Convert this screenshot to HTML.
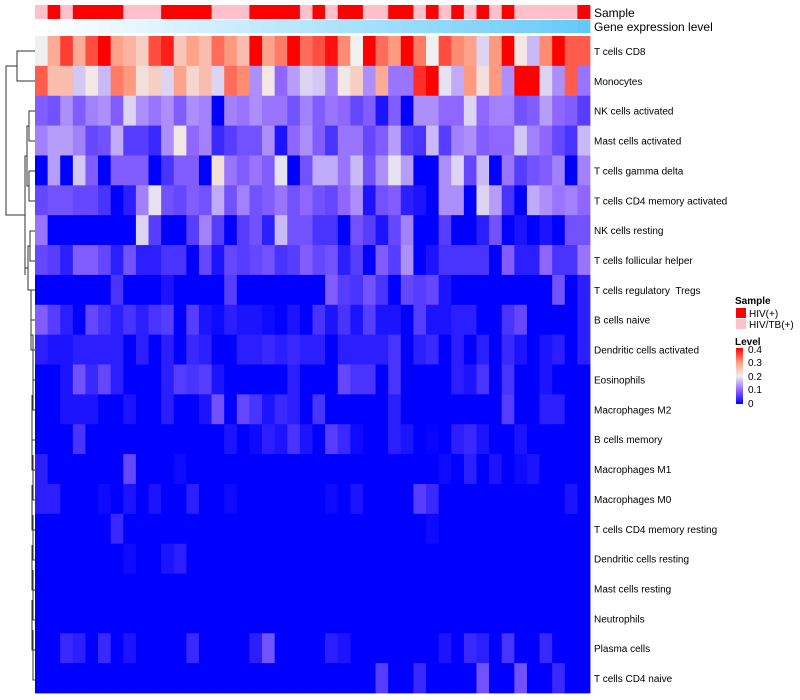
<!DOCTYPE html>
<html><head><meta charset="utf-8">
<style>
body{margin:0;background:#fff;width:800px;height:700px;overflow:hidden;font-family:"Liberation Sans",sans-serif}
svg{display:block}
text{font-family:"Liberation Sans",sans-serif;white-space:pre}
</style></head>
<body>
<svg id="chart" width="800" height="700" xmlns="http://www.w3.org/2000/svg">
<defs>
<linearGradient id="lvl" x1="0" y1="1" x2="0" y2="0">
<stop offset="0" stop-color="#0000ff"/><stop offset="0.25" stop-color="#8f66ff"/><stop offset="0.5" stop-color="#f0f0f0"/><stop offset="0.75" stop-color="#ff9a80"/><stop offset="1" stop-color="#ff0000"/>
</linearGradient>
</defs>
<g id="sampleBar"></g>
<g id="geneBar"></g>
<g id="cells"></g>
<g id="rowLabels"></g>
<text x="594" y="17" font-size="12" fill="#000">Sample</text>
<text x="594" y="31" font-size="12" fill="#000">Gene expression level</text>
<g stroke="#333" stroke-width="1" fill="none">
<path d="M35,51 H17 V81 H35"/>
<path d="M6,66 H17"/>
<path d="M6,66 V215 H25"/>
<path d="M35,111 H29 V141 H35"/>
<path d="M35,171 H29 V201 H35"/>
<path d="M29,126 H27 V186 H29"/>
<path d="M35,231 H30 V261 H35"/>
<path d="M27,156 H25 V275"/>
<path d="M30,246 H28 V290 H35"/>
<path d="M28,268 H25"/>
<path d="M28,290 H31 V320 H35"/>
<path d="M31,305 V350 H35 M31,335 H33 V380 H35 M33,358 V410 H35 M32,395 V440 H35 M32,420 V470 H35 M33,455 V500 H35 M32,485 V530 H35 M33,515 V560 H35 M32,545 V590 H35 M33,570 V620 H35 M32,600 V650 H35 M33,630 V680 H35"/>
</g>
<g>
<text x="735" y="304" font-size="10" font-weight="bold">Sample</text>
<rect x="736" y="308" width="10" height="10" fill="#ff0000"/>
<text x="749" y="317" font-size="10">HIV(+)</text>
<rect x="736" y="319" width="10" height="10" fill="#ffc0cb"/>
<text x="749" y="328" font-size="10">HIV/TB(+)</text>
<text x="735" y="345" font-size="10" font-weight="bold">Level</text>
<rect x="736" y="348" width="7" height="56" fill="url(#lvl)"/>
<text x="748" y="353" font-size="10">0.4</text>
<text x="748" y="366" font-size="10">0.3</text>
<text x="748" y="380" font-size="10">0.2</text>
<text x="748" y="393" font-size="10">0.1</text>
<text x="748" y="407" font-size="10">0</text>
</g>
</svg>
<script>
const rowNames=["T cells CD8","Monocytes","NK cells activated","Mast cells activated","T cells gamma delta","T cells CD4 memory activated","NK cells resting","T cells follicular helper","T cells regulatory  Tregs","B cells naive","Dendritic cells activated","Eosinophils","Macrophages M2","B cells memory","Macrophages M1","Macrophages M0","T cells CD4 memory resting","Dendritic cells resting","Mast cells resting","Neutrophils","Plasma cells","T cells CD4 naive"];
const sampleGroups="PRPRRRRPPPRRRRPPPRRRRPRPRRPPRRPRPRPRPRPPPPPR".split("");
const geneExpr=[0,0.02,0.04,0.06,0.08,0.1,0.12,0.14,0.16,0.18,0.2,0.22,0.24,0.26,0.28,0.3,0.32,0.34,0.36,0.38,0.4,0.42,0.44,0.46,0.48,0.5,0.52,0.54,0.56,0.58,0.6,0.62,0.64,0.66,0.68,0.7,0.72,0.74,0.76,0.78,0.8,0.83,0.86,0.9];
const levels=[
[.2,.28,.36,.28,.35,.4,.29,.27,.24,.35,.38,.25,.29,.26,.33,.3,.26,.4,.29,.32,.4,.33, .35,.39,.31,.2,.4,.33,.3,.4,.32,.2,.35,.31,.29,.18,.3,.4,.21,.16,.31,.4,.34,.34],
[.34,.26,.26,.17,.21,.16,.32,.3,.22,.24,.18,.29,.23,.26,.18,.33,.31,.13,.21,.1,.14,.18, .17,.12,.21,.24,.13,.28,.11,.11,.37,.4,.19,.15,.3,.22,.3,.13,.4,.4,.18,.13,.34,.11],
[.09,.08,.13,.09,.12,.13,.09,.18,.13,.11,.13,.09,.13,.12,0,.12,.11,.13,.11,.11,.08,.12, .09,.11,.1,.07,.09,.02,.09,0,.13,.13,.1,.1,.18,.1,.12,.12,.08,.09,.14,.1,.09,.06],
[.12,.14,.14,.12,.07,.08,.15,.06,.06,.04,.13,.21,.1,.12,.04,.06,.08,.08,.13,.02,.1,.13, .09,.05,.11,.11,.07,.09,.14,.06,.05,.16,.06,.12,.13,.09,.1,.1,.17,.12,.1,.07,.05,.16],
[0,.14,0,.17,.09,0,.09,.09,.09,0,.05,.09,.09,0,.22,.11,.09,.11,.09,.19,0,.08, .15,.15,.11,.16,.08,.13,.19,.14,0,0,.13,.18,.07,.16,0,.11,.06,.08,.09,.12,0,.12],
[.07,.08,.08,.07,.07,.05,0,.03,.12,.19,.08,.07,.09,.08,.15,.08,.12,.08,.09,.11,.08,.1, .08,.07,.1,.13,.02,.08,.09,.03,.02,0,.13,.13,0,.18,.14,.05,0,.15,.13,.11,.12,.1],
[.11,0,0,0,0,0,0,0,.18,.06,0,0,.06,.12,.06,0,.06,.08,.03,.16,.08,.08, .05,.05,0,.08,.06,.02,.07,.12,0,0,.06,0,0,.03,.08,0,.02,0,.02,0,.08,.08],
[.07,.06,.03,.09,.09,.07,.03,.08,.03,.03,.05,.05,0,.07,.02,.07,.06,.07,.08,.05,.06,.09, .07,.08,.03,.06,0,.09,.06,.13,0,.02,.05,.05,.05,.05,0,.09,.03,.03,.1,.05,.05,.11],
[0,0,0,0,0,0,.05,0,0,0,.02,0,0,0,0,.06,0,0,0,0,0,0, 0,.09,.06,.05,.08,.05,0,.07,.06,.07,.02,0,0,0,0,0,0,0,0,.08,0,.03],
[.09,.06,.03,0,.07,.05,.03,.05,.03,.05,.06,0,.06,.02,.01,.03,.02,.02,.01,0,.02,0, .05,.02,.05,.02,.06,.02,.02,0,.06,.02,.02,.03,.03,0,0,.05,.07,0,0,0,0,.03],
[.03,.02,.02,.03,.03,.03,.03,0,.03,0,.03,0,.04,.03,0,0,.03,.03,.04,.03,.04,.03, .03,0,.03,.03,.03,.03,.05,0,.03,.04,0,.03,0,.03,0,.04,.02,0,.02,.03,0,.03],
[0,0,.02,.08,.04,.07,.03,0,0,0,.03,.06,.05,.06,.02,0,0,0,0,0,.03,0, 0,0,.07,.05,.05,0,.05,0,0,0,0,.03,.02,.05,0,.05,0,0,.02,0,0,0],
[0,0,.02,.02,.02,0,0,.02,0,0,.03,0,0,.02,.08,0,.07,.05,.02,.04,.03,0, .05,0,0,0,0,0,.03,0,0,0,0,0,0,0,0,.06,0,0,.03,.03,0,0],
[0,0,0,.05,0,0,0,0,0,0,0,0,0,0,0,.02,0,.01,.03,.02,.05,.02, 0,.06,.04,.01,0,0,.03,.02,0,.005,0,.03,.04,.02,0,0,.02,0,0,0,0,0],
[.03,0,0,0,0,0,0,.07,0,0,0,.01,0,0,0,0,0,0,0,0,0,0, 0,0,0,0,0,0,0,0,0,0,.01,0,.03,0,.02,0,.01,.02,0,0,0,0],
[.03,.03,0,0,0,.01,0,.02,0,.02,0,0,.03,0,0,.01,0,0,0,0,0,0, 0,.01,0,.02,0,0,0,0,.06,.04,0,0,0,0,0,0,0,0,0,0,.02,0],
[0,0,0,0,0,0,.04,0,0,0,0,0,0,0,0,0,0,0,0,0,0,0, 0,0,0,0,0,0,0,0,0,.01,0,0,0,0,0,0,0,0,0,0,0,0],
[0,0,0,0,0,0,0,.01,0,0,.02,.03,0,0,0,0,0,0,0,0,0,0, 0,0,0,0,0,0,0,0,0,0,0,0,0,0,0,0,0,0,0,0,0,0],
[0,0,0,0,0,0,0,0,0,0,0,0,0,0,0,0,0,0,0,0,0,0, 0,0,0,0,0,0,0,0,0,0,0,0,0,0,0,0,0,0,0,0,0,0],
[0,0,0,0,0,0,0,0,0,0,0,0,0,0,0,0,0,0,0,0,0,0, 0,0,0,0,0,0,0,0,0,0,0,0,0,0,0,0,0,0,0,0,0,0],
[0,0,.04,.03,0,.04,0,.02,0,0,0,0,.04,0,0,0,0,.03,.08,0,0,0, 0,.03,.02,0,0,0,0,0,0,0,.02,0,.04,.03,0,.05,0,0,.04,0,0,0],
[0,0,0,0,0,0,0,0,0,0,0,0,0,0,0,0,0,0,0,0,0,0, 0,0,0,0,0,.06,0,0,.04,0,0,0,0,.08,0,0,.08,0,0,.04,0,0]
];
const X0=35,X1=590,Y0=36,Y1=693;
const nCols=sampleGroups.length,nRows=rowNames.length;
const cw=(X1-X0)/nCols,rh=(Y1-Y0)/nRows;
const xPos=i=>X0+i*cw, yPos=j=>Y0+j*rh;
const stops=[[0,[0,0,255]],[0.1,[143,102,255]],[0.2,[240,240,240]],[0.3,[255,154,128]],[0.4,[255,0,0]]];
function color(v){v=Math.max(0,Math.min(0.4,v));for(let k=0;k<stops.length-1;k++){const a=stops[k],b=stops[k+1];if(v<=b[0]){const t=(v-a[0])/(b[0]-a[0]);const c=a[1].map((x,i)=>Math.round(x+(b[1][i]-x)*t));return `rgb(${c})`;}}return "red";}
function geneColor(v){const c=[255,255,255].map((x,i)=>Math.round(x+([79,195,247][i]-x)*v));return `rgb(${c})`;}
const NS="http://www.w3.org/2000/svg";
function mk(tag,attrs,parent){const e=document.createElementNS(NS,tag);for(const k in attrs)e.setAttribute(k,attrs[k]);parent.appendChild(e);return e;}
const sb=document.getElementById('sampleBar'),gb=document.getElementById('geneBar'),cg=document.getElementById('cells'),rl=document.getElementById('rowLabels');
sampleGroups.forEach((g,i)=>{
 const r=mk('rect',{x:xPos(i),y:5,width:cw+0.4,height:14,fill:g==="R"?"#ff0000":"#ffc0cb"},sb);
 
 
});
geneExpr.forEach((v,i)=>{
 const r=mk('rect',{x:xPos(i),y:20,width:cw+0.4,height:13,fill:geneColor(v)},gb);
 
 
});
levels.forEach((row,j)=>{
 row.forEach((v,i)=>{
  const r=mk('rect',{x:xPos(i),y:yPos(j),width:cw+0.4,height:rh+0.4,fill:color(v)},cg);
  
  
 });
 const t=mk('text',{x:594,y:yPos(j)+rh/2+4,'font-size':10,fill:'#000'},rl);
 t.textContent=rowNames[j];
 
 
});
</script>
</body></html>
